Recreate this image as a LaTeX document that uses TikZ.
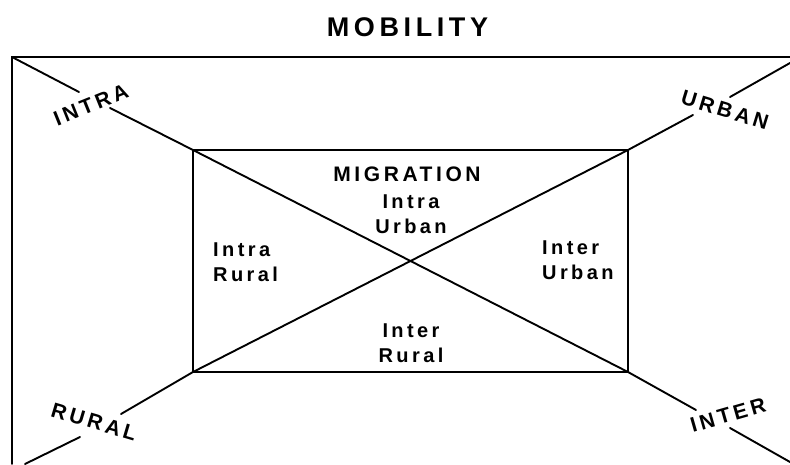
\documentclass[tikz,border=0pt]{standalone}
\usepackage{fontspec}
\setmainfont{Liberation Sans}
\newfontfamily\spacedsans[LetterSpace=17]{Liberation Sans}
\tikzset{
  frame/.style={line width=1.9pt, line cap=round},
  lbl/.style={inner sep=0pt, font=\spacedsans\bfseries\fontsize{20}{25}\selectfont},
  headlbl/.style={inner sep=0pt, font=\spacedsans\bfseries\fontsize{21}{25}\selectfont},
  cornerlbl/.style={inner sep=0pt, font=\spacedsans\bfseries\fontsize{21}{25}\selectfont},
  titlelbl/.style={inner sep=0pt, font=\spacedsans\bfseries\fontsize{27}{30}\selectfont}
}
\begin{document}
\begin{tikzpicture}[x=1pt,y=1pt]
\useasboundingbox (0,0) rectangle (790,464);
% outer frame corners
\coordinate (otl) at (12,407);
\coordinate (otr) at (790,407);
\coordinate (obl) at (12,0);
% inner rectangle corners
\coordinate (itl) at (193,314);
\coordinate (itr) at (628,314);
\coordinate (ibl) at (193,92);
\coordinate (ibr) at (628,92);
% gap ends and outer ends of diagonals
\coordinate (a1) at (79,372);
\coordinate (a2) at (110,356);
\coordinate (b1) at (693,349);
\coordinate (b2) at (730,367);
\coordinate (bend) at (790,401);
\coordinate (c1) at (121,50);
\coordinate (c2) at (80,27);
\coordinate (cend) at (25,0);
\coordinate (d1) at (696,54);
\coordinate (d2) at (730,36);
\coordinate (dend) at (790,2);

% outer frame (cut by picture edge)
\draw[frame] (obl) -- (otl) -- (otr);
% inner rectangle
\draw[frame] (itl) rectangle (ibr);
% diagonals
\draw[frame] (itl) -- (ibr);
\draw[frame] (ibl) -- (itr);
\draw[frame] (otl) -- (a1);
\draw[frame] (a2) -- (itl);
\draw[frame] (itr) -- (b1);
\draw[frame] (b2) -- (bend);
\draw[frame] (ibl) -- (c1);
\draw[frame] (c2) -- (cend);
\draw[frame] (ibr) -- (d1);
\draw[frame] (d2) -- (dend);

% labels
\node[titlelbl] (mob) at (407.5,437) {MOBILITY};
\node[headlbl] (mig) at (407,289.5) {MIGRATION};
\node[lbl, align=center] (iu) at (411,250) {Intra\\Urban};
\node[lbl, align=left, anchor=west] (ir) at (213,202) {Intra\\Rural};
\node[lbl, align=left, anchor=west] (eu) at (542,204) {Inter\\Urban};
\node[lbl, align=center] (er) at (411,121) {Inter\\Rural};
\node[cornerlbl, rotate=22] (intra) at (91,359) {INTRA};
\node[cornerlbl, rotate=-17] (urban) at (725,354) {URBAN};
\node[cornerlbl, rotate=-16.5] (rural) at (94,42) {RURAL};
\node[cornerlbl, rotate=16] (inter) at (728,49) {INTER};
\end{tikzpicture}
\end{document}
